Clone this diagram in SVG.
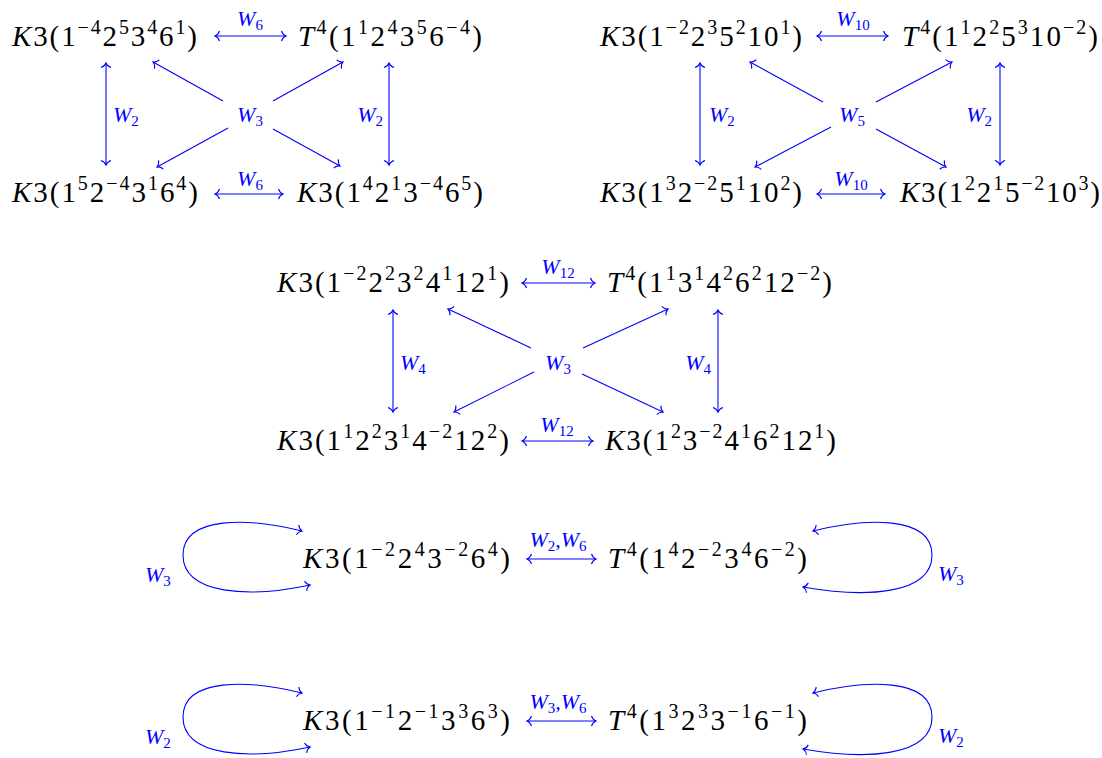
<svg xmlns="http://www.w3.org/2000/svg" width="1102" height="758" viewBox="0 0 1102 758">
<style>
.n{font-family:"Liberation Serif",serif;font-size:29px;fill:#000}
.i{font-style:italic}
.s{font-size:20px}
.l{font-family:"Liberation Serif",serif;font-size:22px;font-style:italic;fill:#00f}
.sb{font-size:15px;font-style:normal}
.e{fill:none;stroke:#00f;stroke-width:1.1;marker-end:url(#ah)}
.b{marker-start:url(#ah)}
</style>
<defs>
<marker id="ah" markerUnits="userSpaceOnUse" markerWidth="14" markerHeight="14" viewBox="-7 -7 14 14" refX="0" refY="0" orient="auto-start-reverse" overflow="visible">
<path d="M -4.5 -5 C -3.6 -2.3 -1.6 -0.6 0 0 C -1.6 0.6 -3.6 2.3 -4.5 5" fill="none" stroke="#00f" stroke-width="1.1"/>
</marker>
</defs>
<rect width="1102" height="758" fill="#fff"/>

<!-- Block 1 -->
<g id="a1"><text class="n" x="12" y="46" textLength="185"><tspan class="i">K</tspan>3(1<tspan class="s" dy="-12">−4</tspan><tspan dy="12">2</tspan><tspan class="s" dy="-12">5</tspan><tspan dy="12">3</tspan><tspan class="s" dy="-12">4</tspan><tspan dy="12">6</tspan><tspan class="s" dy="-12">1</tspan><tspan dy="12">)</tspan></text></g>
<g id="a2"><text class="n" x="298" y="46" textLength="184"><tspan class="i">T</tspan><tspan class="s" dy="-12">4</tspan><tspan dy="12">(1</tspan><tspan class="s" dy="-12">1</tspan><tspan dy="12">2</tspan><tspan class="s" dy="-12">4</tspan><tspan dy="12">3</tspan><tspan class="s" dy="-12">5</tspan><tspan dy="12">6</tspan><tspan class="s" dy="-12">−4</tspan><tspan dy="12">)</tspan></text></g>
<g id="a3"><text class="n" x="12" y="202" textLength="186"><tspan class="i">K</tspan>3(1<tspan class="s" dy="-12">5</tspan><tspan dy="12">2</tspan><tspan class="s" dy="-12">−4</tspan><tspan dy="12">3</tspan><tspan class="s" dy="-12">1</tspan><tspan dy="12">6</tspan><tspan class="s" dy="-12">4</tspan><tspan dy="12">)</tspan></text></g>
<g id="a4"><text class="n" x="297" y="202" textLength="186"><tspan class="i">K</tspan>3(1<tspan class="s" dy="-12">4</tspan><tspan dy="12">2</tspan><tspan class="s" dy="-12">1</tspan><tspan dy="12">3</tspan><tspan class="s" dy="-12">−4</tspan><tspan dy="12">6</tspan><tspan class="s" dy="-12">5</tspan><tspan dy="12">)</tspan></text></g>

<!-- Block 2 -->
<g id="b1"><text class="n" x="600" y="46" textLength="202"><tspan class="i">K</tspan>3(1<tspan class="s" dy="-12">−2</tspan><tspan dy="12">2</tspan><tspan class="s" dy="-12">3</tspan><tspan dy="12">5</tspan><tspan class="s" dy="-12">2</tspan><tspan dy="12">10</tspan><tspan class="s" dy="-12">1</tspan><tspan dy="12">)</tspan></text></g>
<g id="b2"><text class="n" x="902" y="46" textLength="196"><tspan class="i">T</tspan><tspan class="s" dy="-12">4</tspan><tspan dy="12">(1</tspan><tspan class="s" dy="-12">1</tspan><tspan dy="12">2</tspan><tspan class="s" dy="-12">2</tspan><tspan dy="12">5</tspan><tspan class="s" dy="-12">3</tspan><tspan dy="12">10</tspan><tspan class="s" dy="-12">−2</tspan><tspan dy="12">)</tspan></text></g>
<g id="b3"><text class="n" x="600" y="202" textLength="202"><tspan class="i">K</tspan>3(1<tspan class="s" dy="-12">3</tspan><tspan dy="12">2</tspan><tspan class="s" dy="-12">−2</tspan><tspan dy="12">5</tspan><tspan class="s" dy="-12">1</tspan><tspan dy="12">10</tspan><tspan class="s" dy="-12">2</tspan><tspan dy="12">)</tspan></text></g>
<g id="b4"><text class="n" x="900" y="202" textLength="200"><tspan class="i">K</tspan>3(1<tspan class="s" dy="-12">2</tspan><tspan dy="12">2</tspan><tspan class="s" dy="-12">1</tspan><tspan dy="12">5</tspan><tspan class="s" dy="-12">−2</tspan><tspan dy="12">10</tspan><tspan class="s" dy="-12">3</tspan><tspan dy="12">)</tspan></text></g>

<!-- Block 3 -->
<g id="c1"><text class="n" x="277" y="292" textLength="232"><tspan class="i">K</tspan>3(1<tspan class="s" dy="-12">−2</tspan><tspan dy="12">2</tspan><tspan class="s" dy="-12">2</tspan><tspan dy="12">3</tspan><tspan class="s" dy="-12">2</tspan><tspan dy="12">4</tspan><tspan class="s" dy="-12">1</tspan><tspan dy="12">12</tspan><tspan class="s" dy="-12">1</tspan><tspan dy="12">)</tspan></text></g>
<g id="c2"><text class="n" x="607" y="292" textLength="225"><tspan class="i">T</tspan><tspan class="s" dy="-12">4</tspan><tspan dy="12">(1</tspan><tspan class="s" dy="-12">1</tspan><tspan dy="12">3</tspan><tspan class="s" dy="-12">1</tspan><tspan dy="12">4</tspan><tspan class="s" dy="-12">2</tspan><tspan dy="12">6</tspan><tspan class="s" dy="-12">2</tspan><tspan dy="12">12</tspan><tspan class="s" dy="-12">−2</tspan><tspan dy="12">)</tspan></text></g>
<g id="c3"><text class="n" x="277" y="450" textLength="232"><tspan class="i">K</tspan>3(1<tspan class="s" dy="-12">1</tspan><tspan dy="12">2</tspan><tspan class="s" dy="-12">2</tspan><tspan dy="12">3</tspan><tspan class="s" dy="-12">1</tspan><tspan dy="12">4</tspan><tspan class="s" dy="-12">−2</tspan><tspan dy="12">12</tspan><tspan class="s" dy="-12">2</tspan><tspan dy="12">)</tspan></text></g>
<g id="c4"><text class="n" x="605" y="450" textLength="231"><tspan class="i">K</tspan>3(1<tspan class="s" dy="-12">2</tspan><tspan dy="12">3</tspan><tspan class="s" dy="-12">−2</tspan><tspan dy="12">4</tspan><tspan class="s" dy="-12">1</tspan><tspan dy="12">6</tspan><tspan class="s" dy="-12">2</tspan><tspan dy="12">12</tspan><tspan class="s" dy="-12">1</tspan><tspan dy="12">)</tspan></text></g>

<!-- Row 4 -->
<g id="d1"><text class="n" x="303" y="568" textLength="207"><tspan class="i">K</tspan>3(1<tspan class="s" dy="-12">−2</tspan><tspan dy="12">2</tspan><tspan class="s" dy="-12">4</tspan><tspan dy="12">3</tspan><tspan class="s" dy="-12">−2</tspan><tspan dy="12">6</tspan><tspan class="s" dy="-12">4</tspan><tspan dy="12">)</tspan></text></g>
<g id="d2"><text class="n" x="608" y="568" textLength="199"><tspan class="i">T</tspan><tspan class="s" dy="-12">4</tspan><tspan dy="12">(1</tspan><tspan class="s" dy="-12">4</tspan><tspan dy="12">2</tspan><tspan class="s" dy="-12">−2</tspan><tspan dy="12">3</tspan><tspan class="s" dy="-12">4</tspan><tspan dy="12">6</tspan><tspan class="s" dy="-12">−2</tspan><tspan dy="12">)</tspan></text></g>

<!-- Row 5 -->
<g id="e1"><text class="n" x="303" y="730" textLength="207"><tspan class="i">K</tspan>3(1<tspan class="s" dy="-12">−1</tspan><tspan dy="12">2</tspan><tspan class="s" dy="-12">−1</tspan><tspan dy="12">3</tspan><tspan class="s" dy="-12">3</tspan><tspan dy="12">6</tspan><tspan class="s" dy="-12">3</tspan><tspan dy="12">)</tspan></text></g>
<g id="e2"><text class="n" x="608" y="730" textLength="199"><tspan class="i">T</tspan><tspan class="s" dy="-12">4</tspan><tspan dy="12">(1</tspan><tspan class="s" dy="-12">3</tspan><tspan dy="12">2</tspan><tspan class="s" dy="-12">3</tspan><tspan dy="12">3</tspan><tspan class="s" dy="-12">−1</tspan><tspan dy="12">6</tspan><tspan class="s" dy="-12">−1</tspan><tspan dy="12">)</tspan></text></g>

<g id="connectors">
<!-- block 1 -->
<path class="e b" d="M215,36 H286"/>
<path class="e b" d="M215,194 H283"/>
<path class="e b" d="M106,63 V165"/>
<path class="e b" d="M389,63 V165"/>
<path class="e" d="M223,101 L153,62"/>
<path class="e" d="M273,101 L343,62"/>
<path class="e" d="M228,128 L157,167"/>
<path class="e" d="M273,129 L340,166"/>
<text class="l" x="250" y="26" text-anchor="middle">W<tspan class="sb" dy="4">6</tspan></text>
<text class="l" x="250" y="186" text-anchor="middle">W<tspan class="sb" dy="4">6</tspan></text>
<text class="l" x="113" y="122">W<tspan class="sb" dy="4">2</tspan></text>
<text class="l" x="383" y="122" text-anchor="end">W<tspan class="sb" dy="4">2</tspan></text>
<text class="l" x="250" y="122" text-anchor="middle">W<tspan class="sb" dy="4">3</tspan></text>
<!-- block 2 -->
<path class="e b" d="M817,36 H888"/>
<path class="e b" d="M817,194 H885"/>
<path class="e b" d="M700,63 V165"/>
<path class="e b" d="M1000,63 V165"/>
<path class="e" d="M823,102 L750,62"/>
<path class="e" d="M876,102 L952,62"/>
<path class="e" d="M831,127 L755,167"/>
<path class="e" d="M876,129 L946,167"/>
<text class="l" x="853" y="26" text-anchor="middle">W<tspan class="sb" dy="4">10</tspan></text>
<text class="l" x="851" y="186" text-anchor="middle">W<tspan class="sb" dy="4">10</tspan></text>
<text class="l" x="709" y="122">W<tspan class="sb" dy="4">2</tspan></text>
<text class="l" x="992" y="122" text-anchor="end">W<tspan class="sb" dy="4">2</tspan></text>
<text class="l" x="852" y="122" text-anchor="middle">W<tspan class="sb" dy="4">5</tspan></text>
<!-- block 3 -->
<path class="e b" d="M522,283 H595"/>
<path class="e b" d="M522,441 H593"/>
<path class="e b" d="M393,310 V412"/>
<path class="e b" d="M718,310 V412"/>
<path class="e" d="M531,348 L448,309"/>
<path class="e" d="M583,348 L668,309"/>
<path class="e" d="M534,372 L454,412"/>
<path class="e" d="M582,374 L663,412"/>
<text class="l" x="558" y="274" text-anchor="middle">W<tspan class="sb" dy="4">12</tspan></text>
<text class="l" x="557" y="432" text-anchor="middle">W<tspan class="sb" dy="4">12</tspan></text>
<text class="l" x="400" y="370">W<tspan class="sb" dy="4">4</tspan></text>
<text class="l" x="711" y="370" text-anchor="end">W<tspan class="sb" dy="4">4</tspan></text>
<text class="l" x="558" y="370" text-anchor="middle">W<tspan class="sb" dy="4">3</tspan></text>
<!-- row 4 -->
<path class="e b" d="M527,559 H596"/>
<path class="e b" d="M302,531 C250,518 183,515 183,555 C183,595 250,598 310,585"/>
<path class="e b" d="M813,531 C865,518 932,515 932,555 C932,595 865,598 803,587"/>
<text class="l" x="558" y="547" text-anchor="middle">W<tspan class="sb" dy="4">2</tspan><tspan dy="-4">,W</tspan><tspan class="sb" dy="4">6</tspan></text>
<text class="l" x="145" y="582">W<tspan class="sb" dy="4">3</tspan></text>
<text class="l" x="938" y="581">W<tspan class="sb" dy="4">3</tspan></text>
<!-- row 5 -->
<path class="e b" d="M527,721 H596"/>
<path class="e b" d="M302,693 C250,680 183,677 183,717 C183,757 250,760 310,747"/>
<path class="e b" d="M813,693 C865,680 932,677 932,717 C932,757 865,760 803,749"/>
<text class="l" x="558" y="709" text-anchor="middle">W<tspan class="sb" dy="4">3</tspan><tspan dy="-4">,W</tspan><tspan class="sb" dy="4">6</tspan></text>
<text class="l" x="145" y="744">W<tspan class="sb" dy="4">2</tspan></text>
<text class="l" x="938" y="743">W<tspan class="sb" dy="4">2</tspan></text>
</g>
</svg>
